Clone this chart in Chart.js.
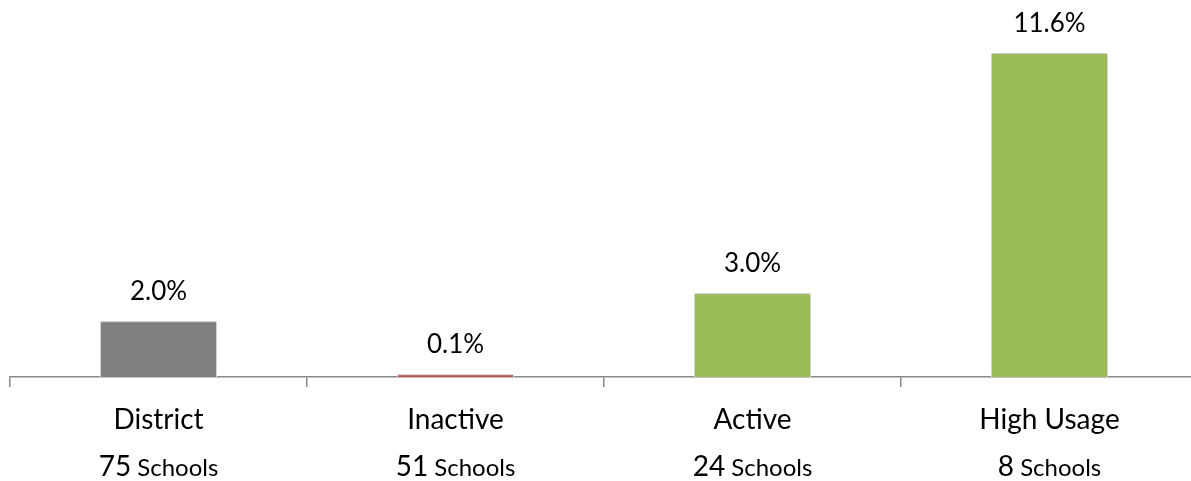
<!DOCTYPE html>
<html>
<head>
<meta charset="utf-8">
<script src="https://cdn.jsdelivr.net/npm/chart.js@4/dist/chart.umd.min.js"></script>
<style>
  html, body { margin: 0; padding: 0; background: #fff; overflow: hidden; }
  #wrap { width: 1198px; height: 481px; position: relative; }
</style>
</head>
<body>
<div id="wrap"><canvas id="myChart"></canvas></div>
<script>
// data
const categories = ['District', 'Inactive', 'Active', 'High Usage'];
const schoolCounts = [75, 51, 24, 8];
const percentValues = [2.0, 0.1, 3.0, 11.6];
const barColors = ['#7f7f7f', '#c0504d', '#9bbb59', '#9bbb59'];
const yMax = 13.5;

const FONT = 'Lato, "Open Sans", sans-serif';

// value labels over the bars + two-line category labels under the axis
const labelPlugin = {
  id: 'labelPlugin',
  beforeDatasetsDraw(chart) {
    const ctx = chart.ctx;
    ctx.save();
    ctx.shadowColor = 'rgba(0,0,0,0.4)';
    ctx.shadowBlur = 3;
  },
  afterDatasetsDraw(chart) {
    const ctx = chart.ctx;
    ctx.restore();
    ctx.save();
    const meta = chart.getDatasetMeta(0);
    ctx.fillStyle = '#000';
    ctx.textAlign = 'center';
    ctx.textBaseline = 'alphabetic';
    ctx.font = '26px ' + FONT;
    meta.data.forEach((bar, i) => {
      ctx.fillText(percentValues[i].toFixed(1) + '%', bar.x, bar.y - 21);
    });

    const xScale = chart.scales.x;
    categories.forEach((name, i) => {
      const cx = xScale.getPixelForValue(i);
      ctx.font = '28px ' + FONT;
      ctx.textAlign = 'center';
      ctx.fillText(name, cx, 429);

      // "75 Schools" with a bigger number
      const num = String(schoolCounts[i]);
      const word = ' Schools';
      ctx.font = '28px ' + FONT;
      const w1 = ctx.measureText(num).width;
      ctx.font = '24px ' + FONT;
      const w2 = ctx.measureText(word).width;
      let left = cx - (w1 + w2) / 2;
      ctx.textAlign = 'left';
      ctx.font = '28px ' + FONT;
      ctx.fillText(num, left, 476);
      ctx.font = '24px ' + FONT;
      ctx.fillText(word, left + w1, 476);
    });
    ctx.restore();
  }
};

new Chart(document.getElementById('myChart'), {
  type: 'bar',
  data: {
    labels: categories,
    datasets: [{
      data: percentValues,
      backgroundColor: barColors,
      borderColor: 'rgba(235,235,235,1)',
      borderWidth: 1,
      borderSkipped: 'bottom',
      categoryPercentage: 1.0,
      barPercentage: 0.394
    }]
  },
  options: {
    responsive: true,
    maintainAspectRatio: false,
    animation: false,
    layout: { padding: { left: 10, right: 0, top: 0, bottom: 0 } },
    plugins: {
      legend: { display: false },
      tooltip: { enabled: false }
    },
    scales: {
      x: {
        grid: {
          offset: true,
          drawOnChartArea: false,
          drawTicks: true,
          tickLength: 10,
          color: '#888',
          lineWidth: 1.5
        },
        border: { display: true, color: '#888', width: 1.5 },
        ticks: { display: false },
        afterFit: function (scale) { scale.height = 104; }
      },
      y: {
        display: false,
        min: 0,
        max: yMax
      }
    }
  },
  plugins: [labelPlugin]
});
</script>
</body>
</html>
